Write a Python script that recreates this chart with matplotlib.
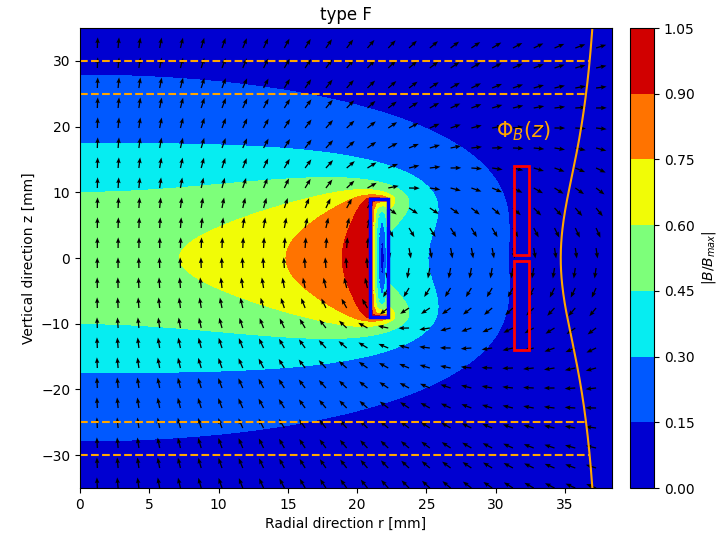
import numpy as np
import matplotlib
matplotlib.use('Agg')
import matplotlib.pyplot as plt
from matplotlib.patches import Rectangle

# geometry in mm
magnet_r = [20.9, 22.2]      # solenoid winding, radial extent
magnet_z = [-9.0, 9.0]       # solenoid winding, axial extent
coil_r = [31.3, 32.4]        # pickup coils
coil_upper_z = [0.5, 14.0]
coil_lower_z = [-14.0, -0.5]
pickup_radius = 31.9
guide_z = [30, 25, -25, -30]
levels = [0.0, 0.15, 0.30, 0.45, 0.60, 0.75, 0.90, 1.05]
r_lim = [0, 38.4]
z_lim = [-35, 35]
label_pos = [32.0, 19.3]
curve_base = 37.7     # r of the flux curve where Phi = 0
curve_width = 3.0     # r offset for Phi = Phi_max


def ellipke(m):
    # complete elliptic integrals K(m), E(m) via AGM
    a = np.ones_like(m)
    b = np.sqrt(1 - m)
    csum = 0.5 * m
    p = 0.5
    for _ in range(25):
        c = (a - b) / 2
        a, b = (a + b) / 2, np.sqrt(a * b)
        p *= 2
        csum = csum + p * c**2
    K = np.pi / (2 * a)
    return K, K * (1 - csum)


def loop_field(a, z0, rr, zz):
    dz = zz - z0
    s = a * a + rr * rr + dz * dz
    alpha2 = s - 2 * a * rr + 1e-3
    beta2 = s + 2 * a * rr + 1e-3
    beta = np.sqrt(beta2)
    K, E = ellipke(1 - alpha2 / beta2)
    bz = ((a * a - rr * rr - dz * dz) * E + alpha2 * K) / (2 * alpha2 * beta)
    br = dz * (s * E - alpha2 * K) / (2 * alpha2 * beta * np.maximum(rr, 1e-9))
    br = np.where(rr > 1e-9, br, 0.0)
    return br, bz


def loop_flux(a, z0, rp, zp):
    k2 = 4 * a * rp / ((a + rp)**2 + (zp - z0)**2)
    k = np.sqrt(k2)
    K, E = ellipke(k2)
    return np.sqrt(a * rp) * ((2 / k - k) * K - 2 / k * E)


nr, nz = 12, 110
fr = np.linspace(magnet_r[0], magnet_r[1], nr + 1)
fz = np.linspace(magnet_z[0], magnet_z[1], nz + 1)
fr = (fr[1:] + fr[:-1]) / 2
fz = (fz[1:] + fz[:-1]) / 2


def field(rr, zz):
    br = np.zeros_like(rr)
    bz = np.zeros_like(rr)
    for a in fr:
        for z0 in fz:
            r1, z1 = loop_field(a, z0, rr, zz)
            br += r1
            bz += z1
    return br, bz


r = np.linspace(r_lim[0], r_lim[1], 200)
z = np.linspace(z_lim[0], z_lim[1], 260)
R, Z = np.meshgrid(r, z)
Br, Bz = field(R, Z)
B = np.hypot(Br, Bz)
B = B / B.max()

# arrows
rq = np.arange(1.25, 38.0, 1.5)
zq = np.linspace(-35, 35, 24)
RQ, ZQ = np.meshgrid(rq, zq)
Uq, Vq = field(RQ, ZQ)
nq = np.hypot(Uq, Vq)
Uq, Vq = Uq / nq, Vq / nq

# flux through pickup loop vs z
zc = np.linspace(z_lim[0], z_lim[1], 200)
phi = np.zeros_like(zc)
for a in fr:
    for z0 in fz:
        phi += loop_flux(a, z0, pickup_radius, zc)
phi = phi / phi.max()
rc = curve_base - curve_width * phi

fig = plt.figure(figsize=(7.18, 5.44), dpi=100)
ax = fig.add_axes([80 / 718, 56 / 544, 532 / 718, 460 / 544])
cax = fig.add_axes([630 / 718, 56 / 544, 24 / 718, 460 / 544])

cf = ax.contourf(R, Z, B, levels=levels, cmap='jet')
ax.quiver(RQ, ZQ, Uq, Vq, scale=50, width=0.0024, headwidth=3.5,
          headlength=4.5, headaxislength=4, color='black')

ax.add_patch(Rectangle((magnet_r[0], magnet_z[0]), magnet_r[1] - magnet_r[0],
                       magnet_z[1] - magnet_z[0], fill=False, ec='blue', lw=2.5))
for cz in [coil_upper_z, coil_lower_z]:
    ax.add_patch(Rectangle((coil_r[0], cz[0]), coil_r[1] - coil_r[0],
                           cz[1] - cz[0], fill=False, ec='red', lw=2))

ax.plot(rc, zc, color='orange', lw=1.5)
for zg in guide_z:
    ax.plot([0, np.interp(zg, zc, rc)], [zg, zg], '--', color='orange', lw=1.5)
ax.text(label_pos[0], label_pos[1], r'$\Phi_B(z)$', color='orange',
        fontsize=15, ha='center', va='center')

ax.set_xlim(r_lim)
ax.set_ylim(z_lim)
ax.set_xlabel('Radial direction r [mm]')
ax.set_ylabel('Vertical direction z [mm]')
ax.set_title('type F')

cb = fig.colorbar(cf, cax=cax, ticks=levels)
cb.set_label(r'$|B/B_{max}|$')

fig.savefig('out.png', dpi=100)
